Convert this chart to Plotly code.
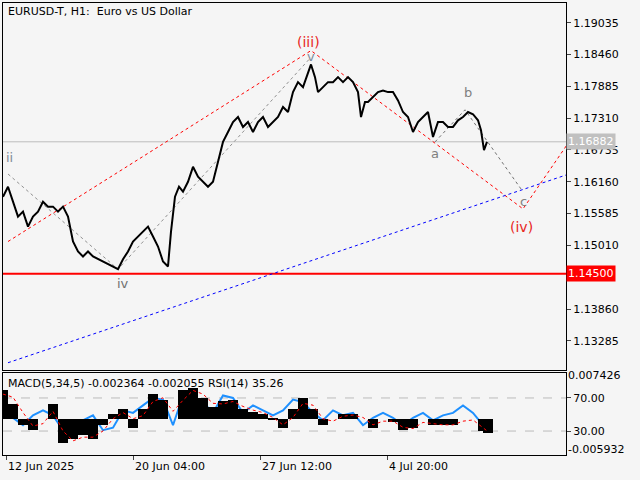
import plotly.graph_objects as go

# price path (bar index, close)
bars = [0, 5, 10, 15, 20, 25, 30, 35, 40, 45, 50, 55, 60, 65, 70, 75, 80, 85, 90, 100,
        110, 115, 120, 125, 130, 135, 140, 145, 150, 155, 160, 165, 168, 172, 176, 180, 185, 190, 195, 200,
        205, 210, 215, 220, 225, 230, 235, 240, 245, 250, 255, 260, 265, 270, 275, 280, 285, 290, 295, 300,
        305, 308, 312, 315, 320, 325, 330, 335, 340, 345, 350, 355, 358, 362, 365, 370, 375, 380, 385, 390,
        395, 400, 405, 410, 415, 420, 425, 430, 435, 440, 445, 450, 455, 460, 465, 470, 475, 478, 481, 484]
close = [1.1589, 1.1607, 1.1580, 1.1553, 1.1562, 1.1535, 1.1553, 1.1562, 1.1580, 1.1571, 1.1571, 1.1562, 1.1571, 1.1553, 1.1508, 1.1490, 1.1481, 1.1490, 1.1481, 1.1472,
         1.1463, 1.1458, 1.1476, 1.1490, 1.1508, 1.1517, 1.1526, 1.1535, 1.1517, 1.1499, 1.1472, 1.1463, 1.1526, 1.1589, 1.1607, 1.1598, 1.1616, 1.1643, 1.1625, 1.1616,
         1.1607, 1.1616, 1.1652, 1.1688, 1.1706, 1.1724, 1.1733, 1.1715, 1.1724, 1.1706, 1.1724, 1.1733, 1.1715, 1.1724, 1.1733, 1.1751, 1.1742, 1.1778, 1.1796, 1.1787,
         1.1814, 1.1828, 1.1805, 1.1778, 1.1787, 1.1796, 1.1796, 1.1805, 1.1796, 1.1805, 1.1796, 1.1778, 1.1733, 1.1760, 1.1760, 1.1769, 1.1778, 1.1781, 1.1778, 1.1778,
         1.1763, 1.1742, 1.1733, 1.1706, 1.1724, 1.1733, 1.1742, 1.1697, 1.1724, 1.1724, 1.1715, 1.1715, 1.1727, 1.1733, 1.1742, 1.1738, 1.1727, 1.1709, 1.1673, 1.1688]

# wave markup
red_wave_x = [5, 308, 520, 566]
red_wave_y = [1.1508, 1.1853, 1.1567, 1.1688]
blue_trend_x = [5, 566]
blue_trend_y = [1.1289, 1.1630]
gray_wave_x = [5, 115, 308]
gray_wave_y = [1.1630, 1.1458, 1.1841]
abc_x = [432, 462, 518]
abc_y = [1.1688, 1.1746, 1.1603]
support = 1.1450
last_price = 1.16882
price_ticks = [1.19035, 1.18460, 1.17885, 1.17310, 1.16735, 1.16160, 1.15585, 1.15010, 1.13860, 1.13285]

# oscillator panel
osc_x = [0, 10, 20, 30, 40, 50, 60, 70, 80, 90, 100, 110, 120, 130, 140, 150, 160, 170, 180, 190,
         200, 210, 220, 230, 240, 250, 260, 270, 280, 290, 300, 310, 320, 330, 340, 350, 360, 370, 380, 390,
         400, 410, 420, 430, 440, 450, 460, 470, 480, 485]
macd = [0.0047, 0.0023, -0.0010, -0.0018, 0.0000, 0.0023, -0.0040, -0.0034, -0.0026, -0.0034, -0.0010, 0.0007, 0.0015, -0.0015, 0.0015, 0.0040, 0.0030, 0.0000, 0.0047, 0.0050,
        0.0034, 0.0018, 0.0028, 0.0030, 0.0015, 0.0011, 0.0007, -0.0002, -0.0015, 0.0015, 0.0034, 0.0015, -0.0010, 0.0000, 0.0007, 0.0007, 0.0000, -0.0015, 0.0000, -0.0005,
        -0.0018, -0.0015, 0.0000, -0.0010, -0.0010, -0.0010, 0.0000, 0.0000, -0.0020, -0.0024]
signal = [0.0040, 0.0035, 0.0010, -0.0012, -0.0008, 0.0012, -0.0020, -0.0036, -0.0030, -0.0030, -0.0020, 0.0000, 0.0010, 0.0000, 0.0005, 0.0028, 0.0034, 0.0012, 0.0030, 0.0046,
          0.0040, 0.0025, 0.0024, 0.0028, 0.0020, 0.0014, 0.0010, 0.0002, -0.0010, 0.0002, 0.0025, 0.0022, 0.0000, -0.0004, 0.0004, 0.0006, 0.0002, -0.0010, -0.0004, -0.0004,
          -0.0014, -0.0016, -0.0006, -0.0008, -0.0010, -0.0010, -0.0004, -0.0002, -0.0014, -0.0021]
rsi = [68, 46, 37, 49, 55, 49, 31, 31, 43, 49, 31, 34, 55, 52, 61, 70, 68, 37, 73, 68,
       65, 52, 73, 70, 52, 61, 55, 49, 55, 68, 65, 52, 43, 55, 49, 52, 37, 46, 52, 46,
       37, 46, 52, 43, 49, 52, 61, 52, 37, 35]
time_ticks = [3, 130, 257, 384]
time_labels = ["12 Jun 2025", "20 Jun 04:00", "27 Jun 12:00", "4 Jul 20:00"]

BG = "#f5f5f5"
FONT = "DejaVu Sans"
# paper domains: plot area spans y px 3..455
MAIN = [0.187, 1.0]
OSC = [0.0, 0.181]

fig = go.Figure()
main = dict(xaxis="x", yaxis="y")
fig.add_trace(go.Scatter(x=[0, 566], y=[last_price] * 2, mode="lines",
                         line=dict(color="#bdbdbd", width=1), **main))
fig.add_trace(go.Scatter(x=[0, 566], y=[support] * 2, mode="lines",
                         line=dict(color="#ff0000", width=2), **main))
fig.add_trace(go.Scatter(x=gray_wave_x, y=gray_wave_y, mode="lines",
                         line=dict(color="#909090", width=1, dash="dot"), **main))
fig.add_trace(go.Scatter(x=abc_x, y=abc_y, mode="lines",
                         line=dict(color="#707070", width=1, dash="dot"), **main))
fig.add_trace(go.Scatter(x=red_wave_x, y=red_wave_y, mode="lines",
                         line=dict(color="#ff0000", width=1, dash="dot"), **main))
fig.add_trace(go.Scatter(x=blue_trend_x, y=blue_trend_y, mode="lines",
                         line=dict(color="#0000ff", width=1, dash="dot"), **main))
fig.add_trace(go.Scatter(x=bars, y=close, mode="lines",
                         line=dict(color="black", width=2), **main))

fig.add_trace(go.Bar(x=osc_x, y=macd, marker_color="black", marker_line_width=0, width=10,
                     xaxis="x2", yaxis="y3"))
fig.add_trace(go.Scatter(x=osc_x, y=signal, mode="lines", xaxis="x2", yaxis="y3",
                         line=dict(color="#ff0000", width=1, dash="dot")))
for lvl in (70, 30):
    fig.add_trace(go.Scatter(x=[0, 563], y=[lvl, lvl], mode="lines", xaxis="x2", yaxis="y2",
                             line=dict(color="#bbbbbb", width=1, dash="dash")))
fig.add_trace(go.Scatter(x=osc_x, y=rsi, mode="lines", xaxis="x2", yaxis="y2",
                         line=dict(color="#1e90ff", width=2)))

labels = [(305, 1.1868, "(iii)", "#e8261e", 14), (308, 1.1843, "v", "#7f8c99", 13),
          (6, 1.1660, "ii", "#7f8c99", 13), (120, 1.1432, "iv", "#707070", 13),
          (432, 1.1667, "a", "#808080", 13), (465, 1.1778, "b", "#808080", 13),
          (520, 1.1580, "c", "#808080", 13), (518, 1.1534, "(iv)", "#e8261e", 14)]
for x, y, t, c, s in labels:
    fig.add_annotation(x=x, y=y, text=t, showarrow=False, font=dict(color=c, size=s, family=FONT),
                       xref="x", yref="y")

fig.add_annotation(x=0.005, y=1.0, xref="paper", yref="paper", xanchor="left", yanchor="top",
                   text="EURUSD-T, H1:  Euro vs US Dollar", showarrow=False,
                   font=dict(size=11, color="black", family=FONT))
fig.add_annotation(x=0.005, y=0.178, xref="paper", yref="paper", xanchor="left", yanchor="top",
                   text="MACD(5,34,5) -0.002364 -0.002055 RSI(14) 35.26", showarrow=False,
                   font=dict(size=11, color="black", family=FONT))
for val, bg in [(last_price, "#c0c0c0"), (support, "#ff0000")]:
    fig.add_annotation(x=1.0, y=val, xref="paper", yref="y", xanchor="left", text=f"{val:.5f}",
                       showarrow=False, bgcolor=bg, font=dict(size=11, color="white", family=FONT),
                       borderpad=1)
for t, yv in [("0.007426", 0.0070), ("-0.005932", -0.0050)]:
    fig.add_annotation(x=1.0, y=yv, xref="paper", yref="y3", xanchor="left", text=t,
                       showarrow=False, font=dict(size=11, color="black", family=FONT))
for tv, tl in zip(time_ticks, time_labels):
    fig.add_annotation(x=tv, y=0, xref="x2", yref="paper", xanchor="left", yanchor="top",
                       yshift=-3, text=tl, showarrow=False,
                       font=dict(size=11, color="black", family=FONT))

axis_common = dict(showgrid=False, zeroline=False, showline=True, linecolor="black", mirror=True,
                   automargin=False)
fig.update_layout(
    width=640, height=480, margin=dict(l=3, r=74, t=3, b=25),
    paper_bgcolor=BG, plot_bgcolor=BG, showlegend=False, bargap=0,
    font=dict(family=FONT, size=11, color="black"),
    xaxis=dict(range=[0, 563], domain=[0, 1], anchor="y", showticklabels=False, **axis_common),
    xaxis2=dict(range=[0, 563], domain=[0, 1], anchor="y2", tickvals=time_ticks,
                showticklabels=False, ticks="outside", ticklen=4, **axis_common),
    yaxis=dict(domain=MAIN, range=[1.1275, 1.1939], side="right", tickvals=price_ticks,
               tickformat=".5f", ticks="outside", ticklen=4, anchor="x", **axis_common),
    yaxis2=dict(domain=OSC, range=[1, 100], side="right", tickvals=[70, 30], tickformat=".2f",
                ticks="outside", ticklen=4, anchor="x2", **axis_common),
    yaxis3=dict(domain=OSC, range=[-0.0059, 0.0074], overlaying="y2", showticklabels=False,
                showgrid=False, zeroline=False, anchor="x2"),
)

# drop the page's default body margin so the chart sits at the window corner
fig.write_html("out.html", config={"displayModeBar": False},
               post_script="document.body.style.margin='0';")
